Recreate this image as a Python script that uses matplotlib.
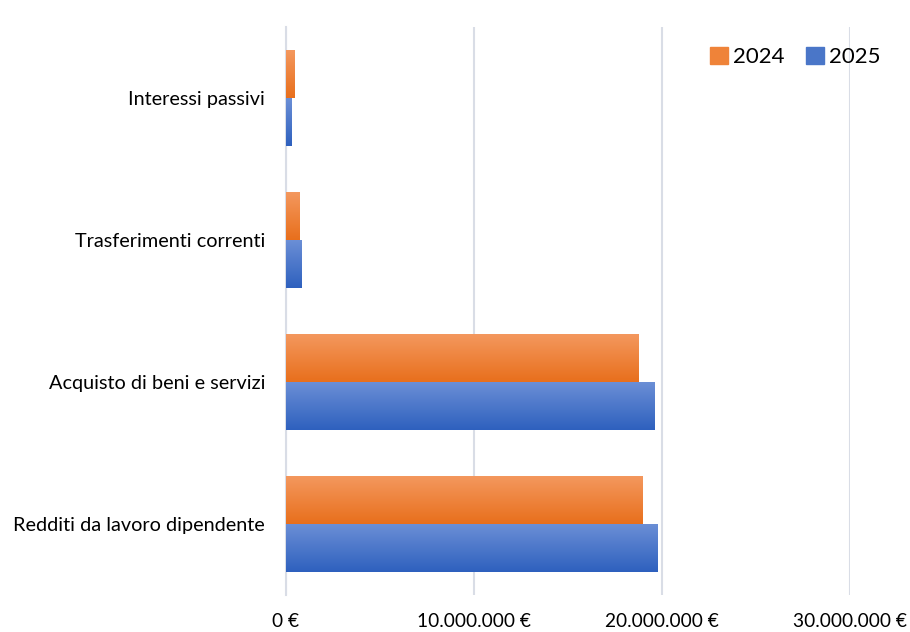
import numpy as np
import matplotlib.pyplot as plt
from matplotlib.patches import Patch
from matplotlib.colors import LinearSegmentedColormap
from matplotlib.ticker import FuncFormatter

categories = ['Redditi da lavoro dipendente', 'Acquisto di beni e servizi',
              'Trasferimenti correnti', 'Interessi passivi']
v2024 = [18950000, 18740000, 740000, 440000]
v2025 = [19750000, 19590000, 810000, 280000]
xticks = [0, 10000000, 20000000, 30000000]

plt.rcParams['font.family'] = ['Lato', 'DejaVu Sans']

orange = LinearSegmentedColormap.from_list('o', ['#E86F1C', '#F4985E'])
blue = LinearSegmentedColormap.from_list('b', ['#2E60BE', '#6B8FD6'])
grad = np.linspace(0, 1, 256).reshape(-1, 1)

fig = plt.figure(figsize=(9.1, 6.32), dpi=100)
ax = fig.add_axes([286 / 910, 1 - 595 / 632, 564 / 910, 568 / 632])

y = np.arange(len(categories))
h = 0.335
bars24 = ax.barh(y + h / 2, v2024, height=h, color='#EF8339', zorder=2)
bars25 = ax.barh(y - h / 2, v2025, height=h, color='#4472C4', zorder=2)

# gradient fill clipped to each bar
for bars, cmap in [(bars24, orange), (bars25, blue)]:
    for b in bars:
        x0, y0 = b.get_x(), b.get_y()
        im = ax.imshow(grad, cmap=cmap, aspect='auto', origin='lower',
                       extent=[x0, x0 + b.get_width(), y0, y0 + b.get_height()],
                       zorder=3)
        im.set_clip_path(b)

ax.set_xlim(0, 30000000)
ax.set_ylim(-0.5, 3.5)
ax.set_xticks(xticks)
ax.xaxis.set_major_formatter(FuncFormatter(lambda v, p: f'{int(v):,}'.replace(',', '.') + ' €'))
ax.set_yticks(y)
ax.set_yticklabels(categories)
ax.tick_params(axis='both', length=0, colors='#000000')
ax.tick_params(axis='x', pad=13, labelsize=13.8)
ax.tick_params(axis='y', pad=15, labelsize=14.3)
ax.grid(axis='x', color='#D9DDE6', linewidth=1.5, zorder=0)
for s in ['top', 'right', 'bottom']:
    ax.spines[s].set_visible(False)
ax.spines['left'].set_color('#D9DDE6')
ax.spines['left'].set_linewidth(1.5)

handles = [Patch(color='#EF8339'), Patch(color='#4A76C8')]
fig.legend(handles, ['2024', '2025'], loc='center right', ncol=2,
           bbox_to_anchor=(900 / 910, 1 - 57 / 632), frameon=False,
           fontsize=16, handlelength=0.8, handleheight=0.8,
           handletextpad=0.2, columnspacing=1.0)

fig.savefig('out.png', dpi=100)
